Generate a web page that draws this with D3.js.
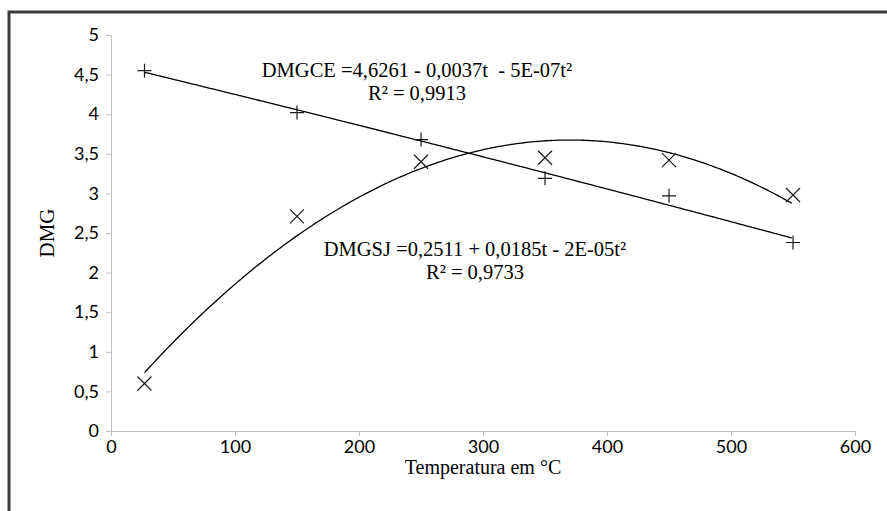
<!DOCTYPE html>
<html><head><meta charset="utf-8">
<script src="https://cdn.jsdelivr.net/npm/d3@7"></script>
<style>body{margin:0;background:#fff}svg{display:block}</style>
</head><body><svg id="c" width="887" height="511"></svg>
<script>
const temps = [27, 150, 250, 350, 450, 550];
const dmgCE = [4.55, 4.02, 3.68, 3.19, 2.97, 2.38];
const dmgSJ = [0.60, 2.71, 3.40, 3.45, 3.42, 2.98];
const xTicks = [0, 100, 200, 300, 400, 500, 600];
const yTicks = [0, 0.5, 1, 1.5, 2, 2.5, 3, 3.5, 4, 4.5, 5];
const eqCE = ["DMGCE =4,6261 - 0,0037t  - 5E-07t²", "R² = 0,9913"];
const eqSJ = ["DMGSJ =0,2511 + 0,0185t - 2E-05t²", "R² = 0,9733"];

const svg = d3.select("#c");
svg.append("rect").attr("x",9).attr("y",12).attr("width",1000).attr("height",600)
  .attr("fill","none").attr("stroke","#3a3a3a").attr("stroke-width",3);

const x = d3.scaleLinear().domain([0,600]).range([111,855]);
const y = d3.scaleLinear().domain([0,5]).range([431,35]);

const fmt = v => String(v).replace(".", ",");
const axisCol = "#bfbfbf";
const yAx = svg.append("g").attr("transform","translate(111,0)")
  .call(d3.axisLeft(y).tickValues(yTicks).tickFormat(fmt).tickSize(5).tickPadding(7));
const xAx = svg.append("g").attr("transform","translate(0,431)")
  .call(d3.axisBottom(x).tickValues(xTicks).tickFormat(fmt).tickSize(5).tickPadding(4));
[yAx, xAx].forEach(g => {
  g.select(".domain").attr("stroke", axisCol).attr("stroke-width",1);
  g.selectAll(".tick line").attr("stroke", axisCol);
  g.selectAll(".tick text").attr("fill","#000").style("font-family","Lato, 'Open Sans', sans-serif").style("font-size","18px");
});

// quadratic least squares fit (Excel polynomial trendline, order 2)
function quadFit(xs, ys){
  let s=[0,0,0,0,0], t=[0,0,0];
  xs.forEach((xi,i)=>{ for(let k=0;k<5;k++) s[k]+=Math.pow(xi,k); for(let k=0;k<3;k++) t[k]+=ys[i]*Math.pow(xi,k); });
  const A=[[s[0],s[1],s[2],t[0]],[s[1],s[2],s[3],t[1]],[s[2],s[3],s[4],t[2]]];
  for(let i=0;i<3;i++){ for(let j=i+1;j<3;j++){ const f=A[j][i]/A[i][i]; for(let k=i;k<4;k++) A[j][k]-=f*A[i][k]; } }
  const c=[0,0,0];
  for(let i=2;i>=0;i--){ let v=A[i][3]; for(let k=i+1;k<3;k++) v-=A[i][k]*c[k]; c[i]=v/A[i][i]; }
  return t0 => c[0]+c[1]*t0+c[2]*t0*t0;
}
const line = d3.line().x(d=>x(d[0])).y(d=>y(d[1]));
[[temps,dmgCE],[temps,dmgSJ]].forEach(([xs,ys])=>{
  const f = quadFit(xs,ys);
  const pts = d3.range(xs[0], xs[xs.length-1]+0.01, 2).map(t=>[t,f(t)]);
  svg.append("path").attr("d", line(pts)).attr("fill","none").attr("stroke","#000").attr("stroke-width",1.3);
});

const mk = "#1a1a1a";
temps.forEach((t,i)=>{
  const cx=x(t), cy=y(dmgCE[i]);
  svg.append("path").attr("d",`M${cx-7},${cy}H${cx+7}M${cx},${cy-7}V${cy+7}`).attr("stroke",mk).attr("stroke-width",1.2);
  const sx=x(t), sy=y(dmgSJ[i]);
  svg.append("path").attr("d",`M${sx-7},${sy-7}L${sx+7},${sy+7}M${sx+7},${sy-7}L${sx-7},${sy+7}`).attr("stroke",mk).attr("stroke-width",1.2);
});

const serif = "'Liberation Serif','Times New Roman',serif";
function eq(lines, cx, y0){
  const t = svg.append("text").attr("text-anchor","middle")
    .attr("xml:space","preserve").style("white-space","pre")
    .style("font-family",serif).style("font-size","20.5px");
  lines.forEach((s,i)=>t.append("tspan").attr("x",cx).attr("y",y0+i*23).text(s));
}
eq(eqCE, 417, 77);
eq(eqSJ, 475, 256);

svg.append("text").attr("x",483).attr("y",474).attr("text-anchor","middle")
  .style("font-family",serif).style("font-size","20px").text("Temperatura em °C");
svg.append("text").attr("transform","translate(54,233) rotate(-90)").attr("text-anchor","middle")
  .style("font-family",serif).style("font-size","21px").text("DMG");
</script></body></html>
